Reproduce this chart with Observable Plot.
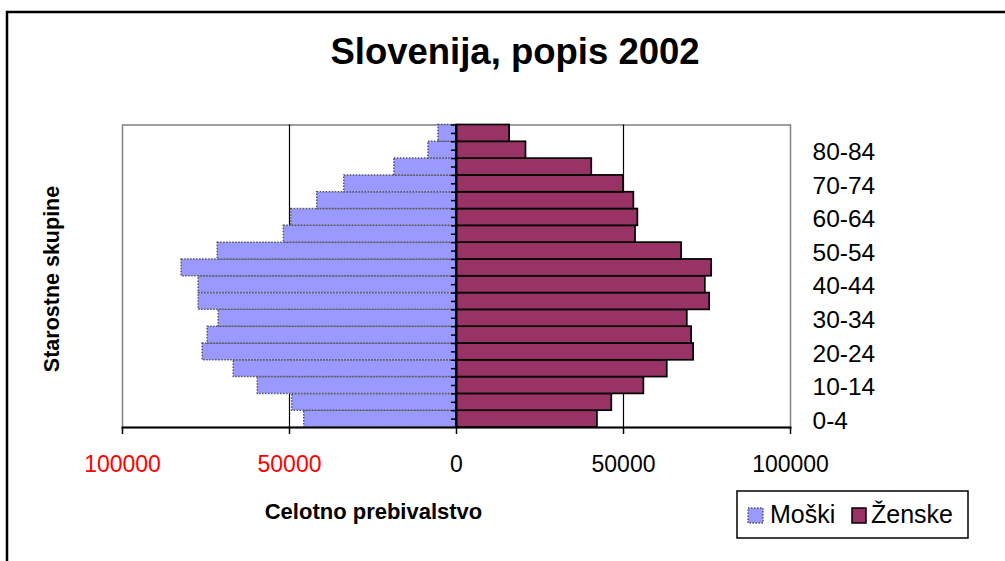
<!DOCTYPE html>
<html>
<head>
<meta charset="utf-8">
<script src="https://cdn.jsdelivr.net/npm/d3@7"></script>
<script src="https://cdn.jsdelivr.net/npm/@observablehq/plot@0.6"></script>
<style>
  html, body { margin: 0; padding: 0; background: white; }
  svg { display: block; }
</style>
</head>
<body>
<div id="chart"></div>
<script>
// ---- data ----
const ageGroups = ["0-4","5-9","10-14","15-19","20-24","25-29","30-34","35-39","40-44",
                   "45-49","50-54","55-59","60-64","65-69","70-74","75-79","80-84","85+"];
const male   = [45600, 49200, 59500, 66700, 76000, 74500, 71200, 77200, 77200,
                82300, 71500, 51700, 49500, 41700, 33600, 18600, 8400, 5400];
const female = [42200, 46500, 56100, 63100, 71000, 70400, 69100, 75800, 74500,
                76400, 67400, 53600, 54300, 53100, 50000, 40500, 20800, 15900];
const yTickLabels = ["0-4","10-14","20-24","30-34","40-44","50-54","60-64","70-74","80-84"];
const xTicks = [-100000, -50000, 0, 50000, 100000];
const gridValues = [-50000, 50000];
const seriesNames = ["Moški", "Ženske"];
const titleText = "Slovenija, popis 2002";
const xTitle = "Celotno prebivalstvo";
const yTitle = "Starostne skupine";

const maleColor = "#9999FF";
const femaleColor = "#993366";
const font = "'Liberation Sans', Arial, Helvetica, sans-serif";

const rows = ageGroups.map((g, i) => ({group: g, male: male[i], female: female[i]}));

const chart = Plot.plot({
  width: 1005,
  height: 561,
  marginLeft: 122,
  marginRight: 215,
  marginTop: 124.5,
  marginBottom: 134,
  style: {fontFamily: font, fontSize: "23px", background: "white", color: "black", overflow: "visible"},
  x: {domain: [-100000, 100000]},
  y: {type: "band", domain: ageGroups.slice().reverse(), padding: 0, round: false},
  marks: [
    Plot.frame({stroke: "#808080", strokeWidth: 1.5}),
    Plot.ruleX(gridValues, {stroke: "#000", strokeWidth: 1.2}),
    Plot.barX(rows, {y: "group", x1: 0, x2: d => -d.male, fill: maleColor,
      stroke: "#555", strokeWidth: 1.5, strokeDasharray: "1.5,1.5"}),
    Plot.barX(rows, {y: "group", x1: 0, x2: "female", fill: femaleColor,
      stroke: "#000", strokeWidth: 1.7}),
    Plot.ruleX([0], {stroke: "#000", strokeWidth: 2}),
    Plot.ruleY(rows, {y: "group", x1: -1500, x2: 0, stroke: "#000", strokeWidth: 1.5}),
    Plot.ruleY(rows, {y: "group", x1: -1500, x2: 0, dy: -8.4, stroke: "#000", strokeWidth: 1.5}),
    Plot.frame({anchor: "bottom", stroke: "#000", strokeWidth: 2}),
    Plot.axisX(xTicks.filter(v => v < 0), {tickSize: 7, tickPadding: 21, strokeWidth: 1.5,
      tickFormat: v => String(Math.abs(v)), fill: "red", stroke: "#000", label: null, fontSize: 23}),
    Plot.axisX(xTicks.filter(v => v >= 0), {tickSize: 7, tickPadding: 21, strokeWidth: 1.5,
      tickFormat: v => String(v), fill: "#000", stroke: "#000", label: null, fontSize: 23}),
    Plot.axisY(yTickLabels, {anchor: "right", tickSize: 0, tickPadding: 22, label: null,
      fontSize: 24.5, textAnchor: "start", dy: 2})
  ]
});

document.getElementById("chart").appendChild(chart);

const svg = d3.select(chart);

// outer chart-area border (cropped on right and bottom)
svg.append("path")
  .attr("d", "M7,561 V12 H1005")
  .attr("fill", "none").attr("stroke", "#000").attr("stroke-width", 2.5);

// title
svg.append("text")
  .attr("x", 515).attr("y", 64)
  .attr("text-anchor", "middle")
  .attr("font-family", font).attr("font-size", 36.5).attr("font-weight", "bold")
  .text(titleText);

// x axis title
svg.append("text")
  .attr("x", 373.5).attr("y", 519)
  .attr("text-anchor", "middle")
  .attr("font-family", font).attr("font-size", 22).attr("font-weight", "bold")
  .text(xTitle);

// y axis title
svg.append("text")
  .attr("transform", "translate(59,279) rotate(-90)")
  .attr("text-anchor", "middle")
  .attr("font-family", font).attr("font-size", 21.5).attr("font-weight", "bold")
  .text(yTitle);

// legend
const lg = svg.append("g").attr("text-anchor", "start");
lg.append("rect").attr("x", 737).attr("y", 491).attr("width", 231).attr("height", 47)
  .attr("fill", "white").attr("stroke", "#000").attr("stroke-width", 1.5);
lg.append("rect").attr("x", 748).attr("y", 508).attr("width", 15).attr("height", 15)
  .attr("fill", maleColor).attr("stroke", "#555").attr("stroke-width", 1.4)
  .attr("stroke-dasharray", "1.5,1.5");
lg.append("text").attr("x", 770).attr("y", 523).attr("text-anchor", "start")
  .attr("font-family", font).attr("font-size", 25).text(seriesNames[0]);
lg.append("rect").attr("x", 852).attr("y", 508).attr("width", 14).attr("height", 15)
  .attr("fill", femaleColor).attr("stroke", "#000").attr("stroke-width", 1.5);
lg.append("text").attr("x", 871).attr("y", 523).attr("text-anchor", "start")
  .attr("font-family", font).attr("font-size", 25).text(seriesNames[1]);
</script>
</body>
</html>
